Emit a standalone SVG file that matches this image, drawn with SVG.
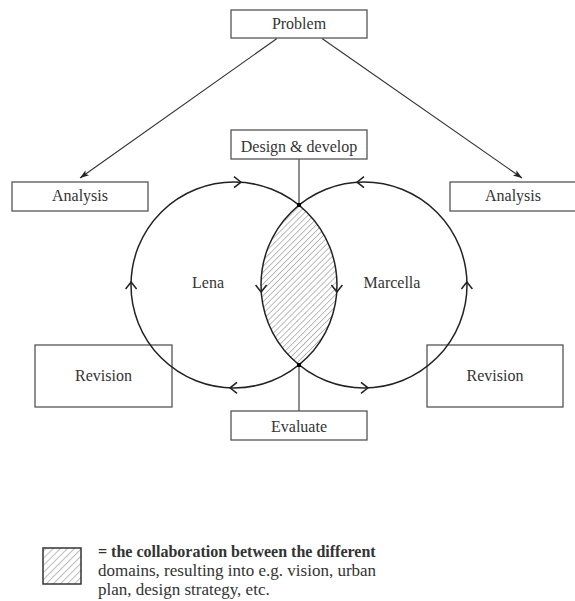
<svg xmlns="http://www.w3.org/2000/svg" width="575" height="601" viewBox="0 0 575 601">
<style>
  .box{fill:#fff;stroke:#555;stroke-width:1.3}
  .lbl{font-family:"Liberation Serif","Times New Roman",serif;font-size:16px;fill:#333;text-anchor:middle}
  .leg{font-family:"Liberation Serif","Times New Roman",serif;font-size:17px;fill:#333}
  .legb{font-family:"Liberation Serif","Times New Roman",serif;font-size:16px;font-weight:bold;fill:#333}
  .line{stroke:#333;stroke-width:1.1;fill:none}
  .circ{stroke:#222;stroke-width:1.5;fill:none}
  .chev{stroke:#222;stroke-width:1.5;fill:none}
</style>
<defs>
  <marker id="ah" viewBox="0 0 10 10" refX="10" refY="5" markerWidth="9" markerHeight="9" markerUnits="userSpaceOnUse" orient="auto">
    <path d="M0,1.5 L10,5 L0,8.5 L2.5,5 Z" fill="#222"/>
  </marker>
  <pattern id="hatch" width="4.2" height="4.2" patternUnits="userSpaceOnUse" patternTransform="rotate(45)">
    <rect width="4.2" height="4.2" fill="#fff"/>
    <line x1="0" y1="0" x2="0" y2="4.2" stroke="#999" stroke-width="1.3"/>
  </pattern>
  <pattern id="hatch2" width="5" height="5" patternUnits="userSpaceOnUse" patternTransform="rotate(45)">
    <rect width="5" height="5" fill="#fff"/>
    <line x1="0" y1="0" x2="0" y2="5" stroke="#999" stroke-width="1.3"/>
  </pattern>
  <path id="chev" d="M-7,-5.5 L0,0 L-7,5.5" class="chev"/>
</defs>

<g id="revision-left"><rect class="box" x="35" y="345" width="137" height="62"/><text class="lbl" x="103.5" y="381">Revision</text></g>
<g id="revision-right"><rect class="box" x="427" y="345" width="136" height="62"/><text class="lbl" x="495" y="381">Revision</text></g>

<g id="overlap">
  <path d="M299,205 A103,103 0 0 1 299,365 A103,103 0 0 1 299,205 Z" fill="url(#hatch)" stroke="none"/>
</g>

<g id="connectors">
  <line class="line" x1="277" y1="38.5" x2="80" y2="178" marker-end="url(#ah)"/>
  <line class="line" x1="322" y1="38.5" x2="522" y2="178" marker-end="url(#ah)"/>
  <line class="line" x1="299" y1="159" x2="299" y2="205"/>
  <line class="line" x1="299" y1="365" x2="299" y2="411"/>
</g>

<g id="lena">
  <circle class="circ" cx="234" cy="285" r="103"/>
  <text class="lbl" x="208" y="288">Lena</text>
  <use href="#chev" transform="translate(241,182.2)"/>
  <use href="#chev" transform="translate(131.1,282) rotate(-90)"/>
  <use href="#chev" transform="translate(230,387.8) rotate(180)"/>
  <use href="#chev" transform="translate(336.9,292) rotate(90)"/>
</g>
<g id="marcella">
  <circle class="circ" cx="364" cy="285" r="103"/>
  <text class="lbl" x="392" y="288">Marcella</text>
  <use href="#chev" transform="translate(357,182.2) rotate(180)"/>
  <use href="#chev" transform="translate(261.1,292) rotate(90)"/>
  <use href="#chev" transform="translate(368,387.8)"/>
  <use href="#chev" transform="translate(466.9,282) rotate(-90)"/>
</g>

<g id="nodes-dots">
  <rect x="297" y="203" width="4" height="4" fill="#000"/>
  <rect x="297" y="363" width="4" height="4" fill="#000"/>
</g>

<g id="problem"><rect class="box" x="231" y="10" width="136" height="28"/><text class="lbl" x="299" y="29">Problem</text></g>
<g id="analysis-left"><rect class="box" x="12" y="182" width="136" height="29"/><text class="lbl" x="80" y="201">Analysis</text></g>
<g id="analysis-right"><rect class="box" x="450" y="182" width="136" height="29"/><text class="lbl" x="513" y="201">Analysis</text></g>
<g id="design"><rect class="box" x="231" y="130" width="136" height="29"/><text class="lbl" x="299" y="152">Design &amp; develop</text></g>
<g id="evaluate"><rect class="box" x="231" y="411" width="136" height="29"/><text class="lbl" x="299" y="432">Evaluate</text></g>

<g id="legend">
  <rect x="43" y="548" width="38" height="36" fill="url(#hatch2)" stroke="#333" stroke-width="1.5"/>
  <text class="legb" x="98" y="557">= the collaboration between the different</text>
  <text class="leg" x="98" y="576">domains, resulting into e.g. vision, urban</text>
  <text class="leg" x="98" y="595">plan, design strategy, etc.</text>
</g>
</svg>
